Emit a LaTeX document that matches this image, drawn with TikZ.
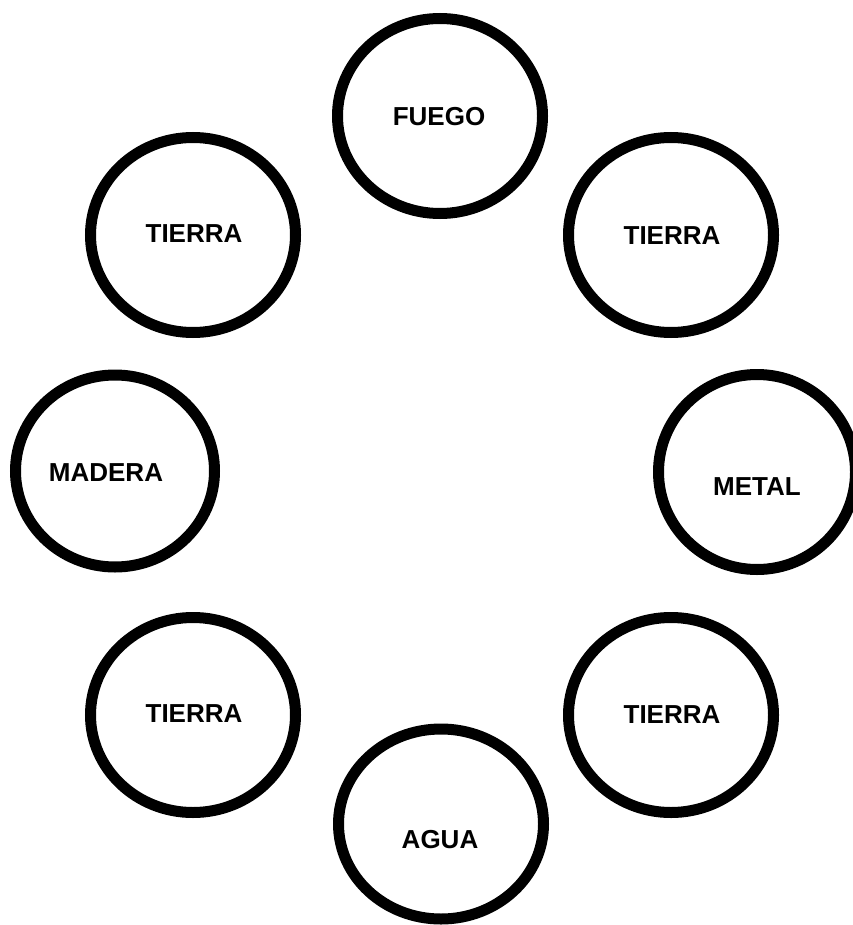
\documentclass[tikz,border=0pt]{standalone}
\usepackage{fontspec}
\setmainfont{Liberation Sans}
\usepackage{tikz}
\usetikzlibrary{shapes.geometric}

\begin{document}
\begin{tikzpicture}[x=1pt,y=-1pt,
        ring/.style={ellipse,draw,line width=11pt,inner sep=0pt,minimum width=205pt,minimum height=195pt},
        word/.style={font=\bfseries\fontsize{26}{26}\selectfont,inner sep=0pt}]
        \useasboundingbox (0,0) rectangle (852,925);
        \node at (440,116) [ring] (v100) {};
        \node at (193,235) [ring] (v200) {};
        \node at (671,235) [ring] (v300) {};
        \node at (115,471) [ring,minimum width=199pt,minimum height=192pt] (v400) {};
        \node at (757,472) [ring,minimum width=197pt] (v500) {};
        \node at (193,715) [ring] (v600) {};
        \node at (671,715) [ring] (v700) {};
        \node at (441,824) [ring,minimum height=190pt] (v800) {};

        \node at (439,117) [word] (w100) {FUEGO};
        \node at (194,234) [word] (w200) {TIERRA};
        \node at (672,236) [word] (w300) {TIERRA};
        \node at (106,473) [word] (w400) {MADERA};
        \node at (757,487) [word] (w500) {METAL};
        \node at (194,714) [word] (w600) {TIERRA};
        \node at (672,715) [word] (w700) {TIERRA};
        \node at (440,840) [word] (w800) {AGUA};
\end{tikzpicture}
\end{document}
